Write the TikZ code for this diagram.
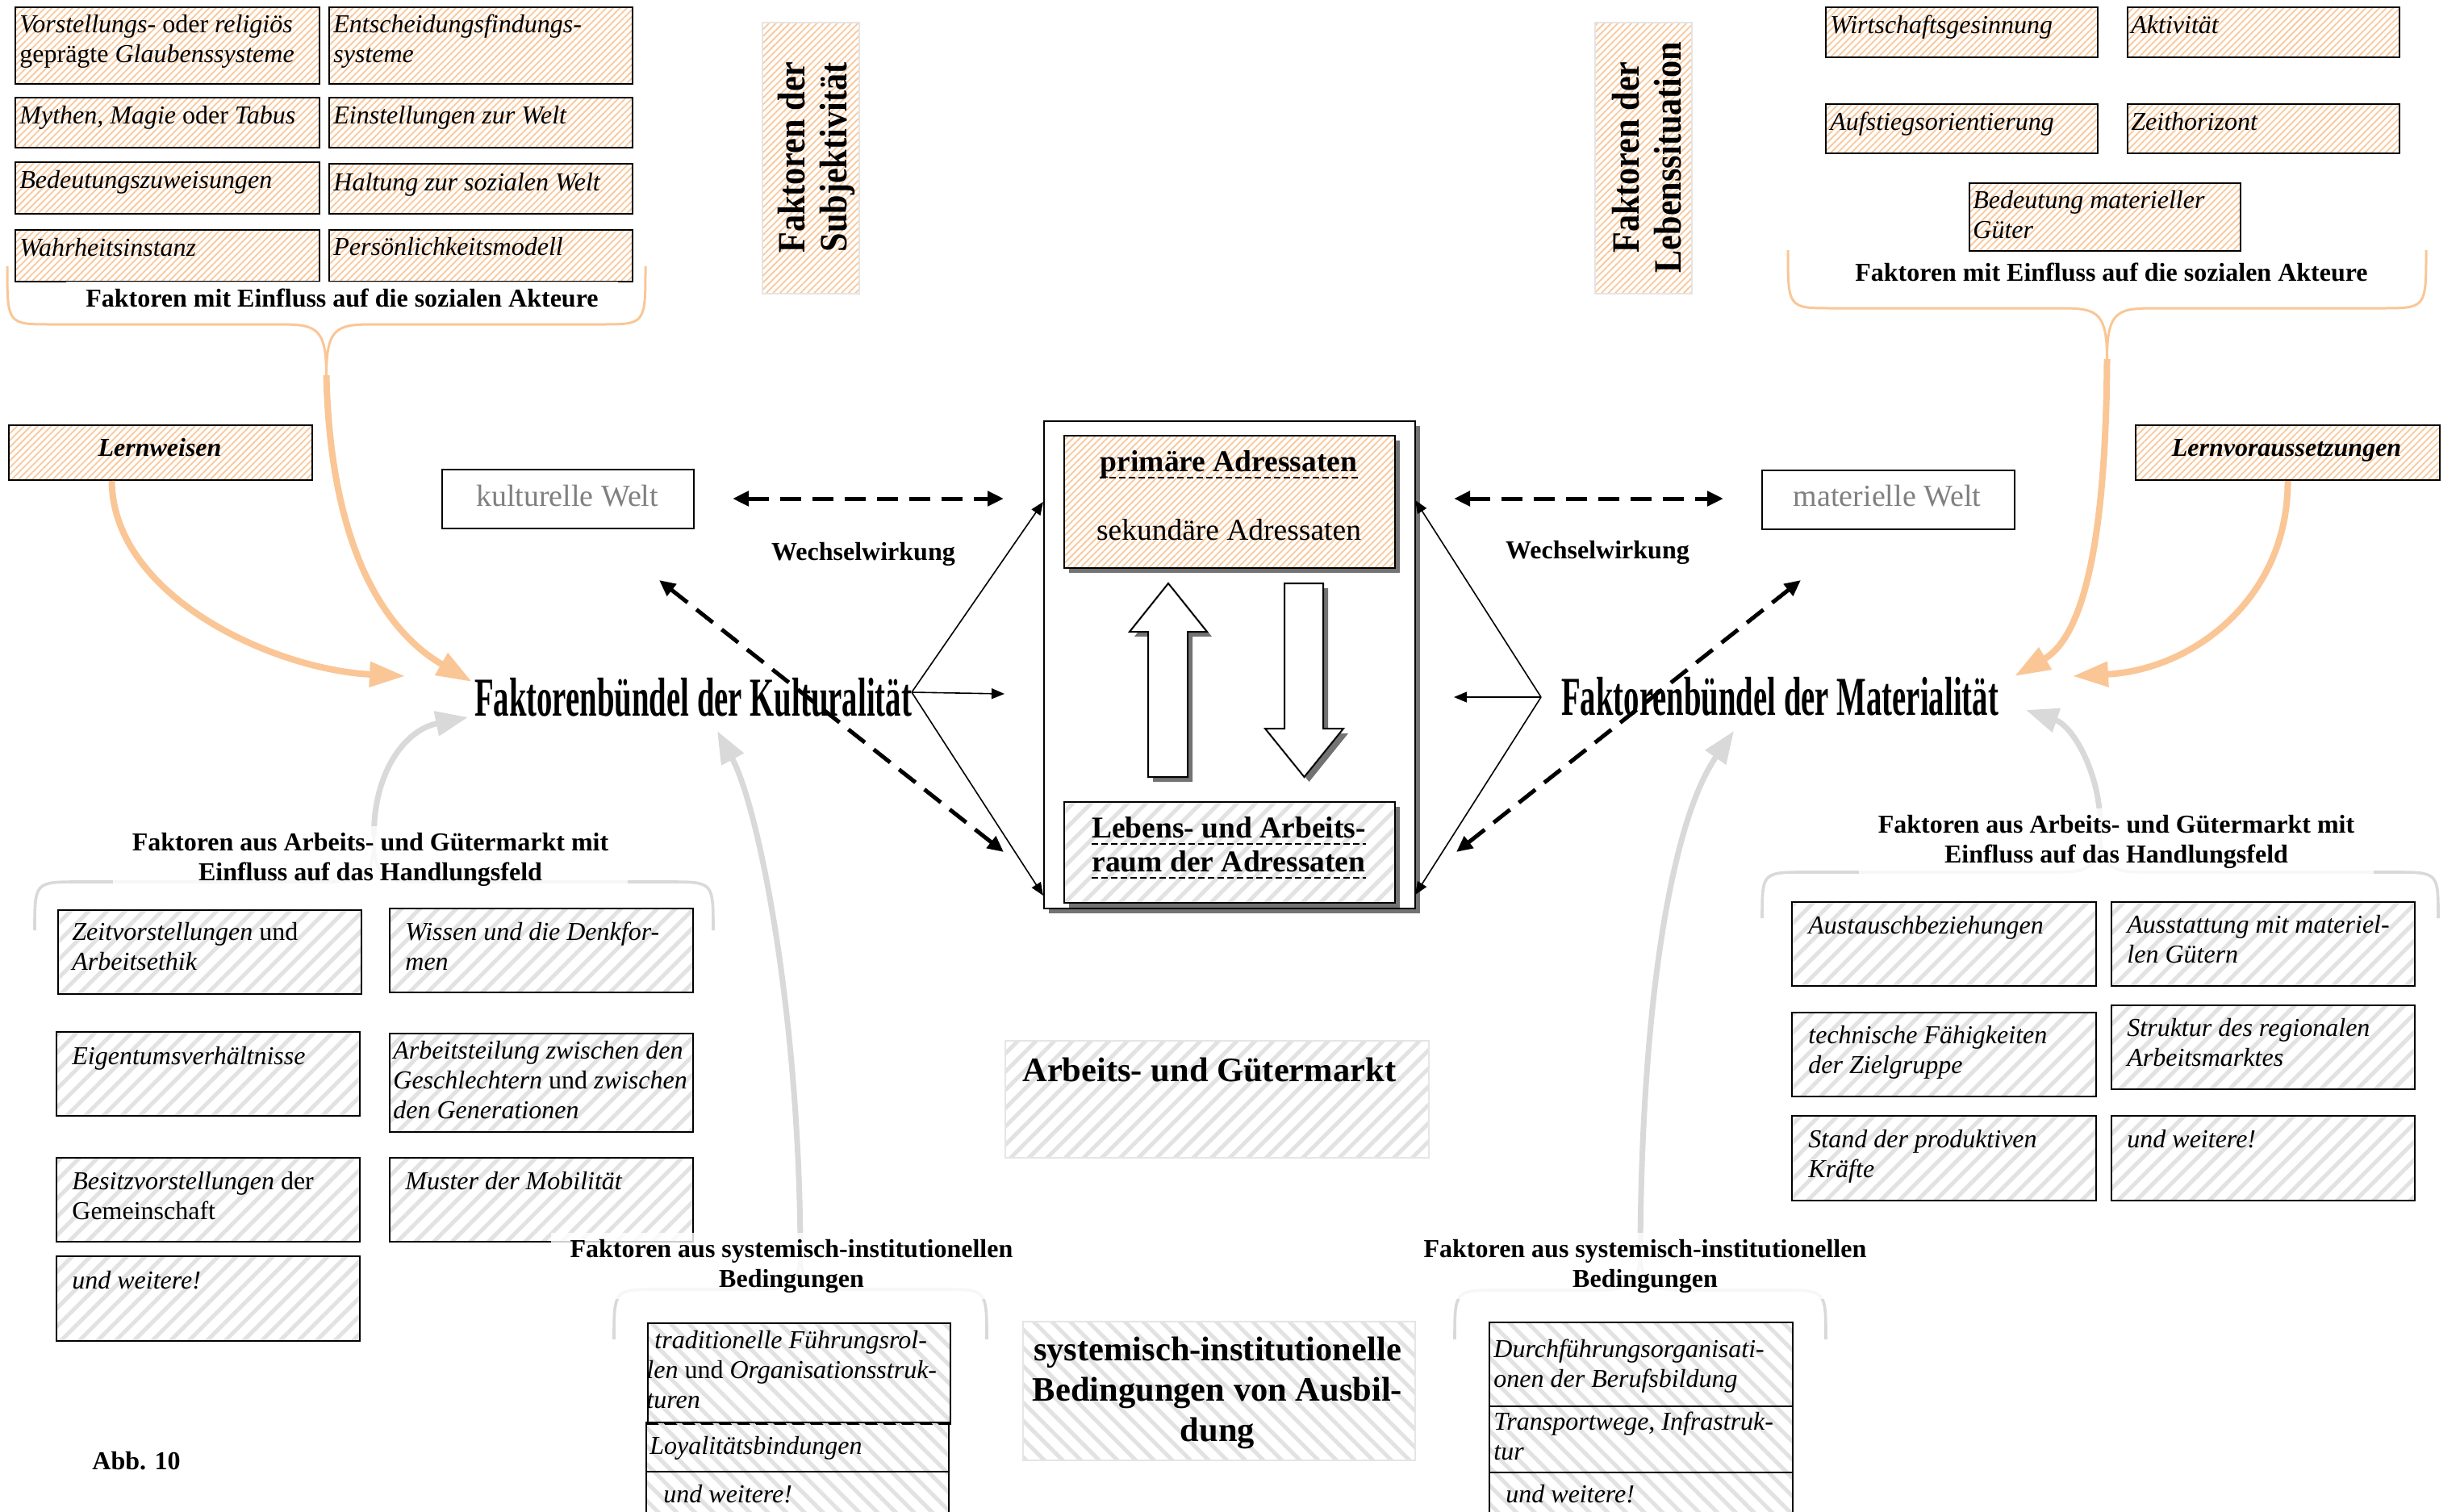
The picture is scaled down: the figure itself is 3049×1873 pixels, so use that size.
\documentclass[tikz,border=0pt]{standalone}
\usepackage{fontspec}
\setmainfont{Liberation Serif}
\newfontfamily\condserif{Liberation Serif}[FakeStretch=0.57]
\newfontfamily\wideserif{Liberation Serif}[FakeStretch=0.88]
\usetikzlibrary{arrows.meta,patterns.meta,shadows,calc}

\definecolor{peach}{RGB}{250,198,150}
\definecolor{peachline}{RGB}{250,200,155}
\definecolor{greyline}{RGB}{226,226,226}
\definecolor{greyarrow}{RGB}{217,217,217}
\definecolor{worldtext}{RGB}{128,128,128}

\newcommand\fsS{\fontsize{16pt}{18.5pt}\selectfont}
\newcommand\fsM{\fontsize{18.75pt}{21pt}\selectfont}
\newcommand\fsL{\fontsize{21.25pt}{25pt}\selectfont}
\newcommand\fsW{\fontsize{19pt}{22pt}\selectfont}
\newcommand\fsV{\fontsize{24pt}{26pt}\selectfont}
\newcommand\fsB{\fontsize{34pt}{38pt}\selectfont}

% rectangle node from corner (x1,y1) to corner (x2,y2)
\newcommand\boxnode[6]{%
  \node[#2, anchor=north west, inner sep=0pt,
        minimum width={(#5-#3)*0.5pt}, minimum height={(#6-#4)*0.5pt}]
        (#1) at (#3,#4) {};}

% horizontal curly brace: style, x left, x right, y of ends, y of bar, y of tip
\newcommand\curly[6]{%
  \pgfmathsetmacro\bracemid{(#2+#3)/2}
  \draw[#1] (#2,#4) .. controls (#2,#5) and (#2,#5) .. (#2+55,#5) -- (\bracemid-65,#5)
      .. controls (\bracemid-15,#5) and (\bracemid,#5) .. (\bracemid,#6)
      (#3,#4) .. controls (#3,#5) and (#3,#5) .. (#3-55,#5) -- (\bracemid+65,#5)
      .. controls (\bracemid+15,#5) and (\bracemid,#5) .. (\bracemid,#6);}

% multi-line text nodes are placed by the baseline of their last line
\tikzset{
  txt/.style={inner sep=0pt, anchor=base west, align=left, font=\fsS},
  itxt/.style={txt, font=\fsS\itshape},
  lbl/.style={inner xsep=12pt, inner ysep=4pt, anchor=base, align=center,
              font=\fsS\bfseries, fill=white, fill opacity=0.8, text opacity=1},
  peachbox/.style={draw=black, line width=1pt,
              pattern={Lines[angle=45,distance=3pt,line width=0.9pt]}, pattern color=peachline},
  peachpale/.style={draw=black!10, line width=0.8pt,
              pattern={Lines[angle=45,distance=3pt,line width=0.9pt]}, pattern color=peachline},
  greybox/.style={draw=black, line width=1pt,
              pattern={Lines[angle=45,distance=8pt,line width=2.5pt]}, pattern color=greyline},
  greyboxb/.style={draw=black, line width=1pt,
              pattern={Lines[angle=-45,distance=8pt,line width=2.5pt]}, pattern color=greyline},
  palebox/.style={draw=black!10, line width=1pt,
              pattern={Lines[angle=45,distance=8pt,line width=2.5pt]}, pattern color=greyline},
  paleboxb/.style={draw=black!10, line width=1pt,
              pattern={Lines[angle=-45,distance=8pt,line width=2.5pt]}, pattern color=greyline},
  plainbox/.style={draw=black, line width=1pt, fill=white},
  shadowed/.style={drop shadow={shadow xshift=3pt,shadow yshift=-3pt,fill=black!55,opacity=1}},
  bracepeach/.style={draw=peach, line width=1.5pt},
  bracegrey/.style={draw=greyarrow, line width=1.8pt},
  peacharrow/.style={draw=peach, line width=4pt, -{Triangle[length=22pt,width=15pt]}},
  greyarrowst/.style={draw=greyarrow, line width=3.5pt, -{Triangle[length=20pt,width=15pt]}},
  thinarrow/.style={line width=0.8pt, -{Triangle[length=8pt,width=6.5pt]}},
  dasharrow/.style={line width=2.5pt, dash pattern=on 13pt off 7pt,
              {Triangle[length=10pt,width=9pt]}-{Triangle[length=10pt,width=9pt]}},
  ul/.style={line width=1pt, dash pattern=on 4pt off 2pt},
  blockarrow/.style={draw=black, line width=1pt, fill=white, shadowed}
}

\begin{document}
\begin{tikzpicture}[x=0.5pt, y=-0.5pt, line join=miter]
\useasboundingbox (0,0) rectangle (3049,1873);

% ---------- factors of subjectivity (top left) ----------
\boxnode{tl1}{peachbox}{18}{8}{395}{103}
\boxnode{tl2}{peachbox}{407}{8}{783}{103}
\boxnode{tl3}{peachbox}{18}{120}{395}{182}
\boxnode{tl4}{peachbox}{407}{120}{783}{182}
\boxnode{tl5}{peachbox}{18}{200}{395}{264}
\boxnode{tl6}{peachbox}{407}{202}{783}{264}
\boxnode{tl7}{peachbox}{18}{284}{395}{348}
\boxnode{tl8}{peachbox}{407}{284}{783}{348}
\node[txt] (tt1) at (24,78) {\textit{Vorstellungs-} oder \textit{religiös}\\geprägte \textit{Glaubenssysteme}};
\node[itxt] (tt2) at (413,78) {Entscheidungsfindungs-\\systeme};
\node[txt] (tt3) at (24,153) {\textit{Mythen, Magie} oder \textit{Tabus}};
\node[itxt] (tt4) at (413,153) {Einstellungen zur Welt};
\node[itxt] (tt5) at (24,233) {Bedeutungszuweisungen};
\node[itxt] (tt6) at (413,236) {Haltung zur sozialen Welt};
\node[itxt] (tt7) at (24,317) {Wahrheitsinstanz};
\node[itxt] (tt8) at (413,316) {Persönlichkeitsmodell};

% ---------- factors of the life situation (top right) ----------
\boxnode{tr1}{peachbox}{2262}{8}{2599}{70}
\boxnode{tr2}{peachbox}{2636}{8}{2973}{70}
\boxnode{tr3}{peachbox}{2262}{128}{2599}{189}
\boxnode{tr4}{peachbox}{2636}{128}{2973}{189}
\boxnode{tr5}{peachbox}{2440}{226}{2776}{310}
\node[itxt] (rt1) at (2268,42) {Wirtschaftsgesinnung};
\node[itxt] (rt2) at (2641,42) {Aktivität};
\node[itxt] (rt3) at (2268,162) {Aufstiegsorientierung};
\node[itxt] (rt4) at (2641,162) {Zeithorizont};
\node[itxt] (rt5) at (2445,295) {Bedeutung materieller\\Güter};

% ---------- vertical headings ----------
\boxnode{subj}{peachpale}{944}{27}{1064}{363}
\boxnode{lebs}{peachpale}{1976}{27}{2096}{363}
\node[rotate=90, align=center, inner sep=0pt, font=\wideserif\bfseries\fsV] (subjt) at (1012,195) {Faktoren der\\Subjektivität};
\node[rotate=90, align=center, inner sep=0pt, font=\wideserif\bfseries\fsV] (lebst) at (2041,195) {Faktoren der\\Lebenssituation};

% ---------- learning boxes and worlds ----------
\boxnode{lw}{peachbox}{10}{526}{386}{594}
\node[inner sep=0pt, anchor=base, font=\fsS\bfseries\itshape] (lwt) at (198,565) {Lernweisen};
\boxnode{lv}{peachbox}{2646}{526}{3023}{594}
\node[inner sep=0pt, anchor=base, font=\fsS\bfseries\itshape] (lvt) at (2834,565) {Lernvoraussetzungen};
\boxnode{kw}{plainbox}{547}{581}{859}{654}
\node[inner sep=0pt, anchor=base, font=\fsW, text=worldtext] (kwt) at (703,627) {kulturelle Welt};
\boxnode{mw}{plainbox}{2183}{582}{2496}{655}
\node[inner sep=0pt, anchor=base, font=\fsW, text=worldtext] (mwt) at (2339,627) {materielle Welt};

% ---------- lower left: labour and goods market ----------
\boxnode{ll1}{greybox}{69}{1125}{445}{1229}
\boxnode{ll2}{greybox}{482}{1125}{858}{1229}
\boxnode{ll3}{greybox}{69}{1278}{445}{1382}
\boxnode{ll4}{greybox}{482}{1280}{858}{1402}
\boxnode{ll5}{greybox}{69}{1434}{445}{1538}
\boxnode{ll6}{greybox}{482}{1434}{858}{1538}
\boxnode{ll7}{greybox}{69}{1556}{445}{1661}
\node[txt] (lt1) at (89,1202) {\textit{Zeitvorstellungen} und\\\textit{Arbeitsethik}};
\node[itxt] (lt2) at (502,1202) {Wissen und die Denkfor-\\men};
\node[itxt] (lt3) at (89,1319) {Eigentumsverhältnisse};
\node[txt] (lt4) at (487,1386) {\textit{Arbeitsteilung zwischen den}\\\textit{Geschlechtern} und \textit{zwischen}\\\textit{den Generationen}};
\node[txt] (lt5) at (89,1511) {\textit{Besitzvorstellungen} der\\Gemeinschaft};
\node[itxt] (lt6) at (502,1474) {Muster der Mobilität};
\node[itxt] (lt7) at (89,1597) {und weitere!};

% ---------- lower right: labour and goods market ----------
\boxnode{lr1}{greybox}{2220}{1117}{2597}{1221}
\boxnode{lr2}{greybox}{2616}{1117}{2992}{1221}
\boxnode{lr3}{greybox}{2220}{1254}{2597}{1358}
\boxnode{lr4}{greybox}{2616}{1245}{2992}{1349}
\boxnode{lr5}{greybox}{2220}{1382}{2597}{1487}
\boxnode{lr6}{greybox}{2616}{1382}{2992}{1487}
\node[itxt] (rl1) at (2241,1157) {Austauschbeziehungen};
\node[itxt] (rl2) at (2636,1193) {Ausstattung mit materiel-\\len Gütern};
\node[itxt] (rl3) at (2241,1330) {technische Fähigkeiten\\der Zielgruppe};
\node[itxt] (rl4) at (2636,1321) {Struktur des regionalen\\Arbeitsmarktes};
\node[itxt] (rl5) at (2241,1459) {Stand der produktiven\\Kräfte};
\node[itxt] (rl6) at (2636,1422) {und weitere!};

% ---------- bottom: systemic-institutional conditions ----------
\boxnode{bl1}{greyboxb}{800}{1637}{1175}{1762}
\boxnode{bl2}{greyboxb}{800}{1762}{1175}{1823}
\boxnode{bl3}{greyboxb}{800}{1823}{1175}{1890}
\node[txt] (bt1) at (801,1745) {\hspace*{5pt}\textit{traditionelle Führungsrol-}\\\textit{len} und \textit{Organisationsstruk-}\\\textit{turen}};
\node[itxt] (bt2) at (805,1802) {Loyalitätsbindungen};
\node[itxt] (bt3) at (822,1862) {und weitere!};
\boxnode{br1}{greyboxb}{1845}{1638}{2221}{1742}
\boxnode{br2}{greyboxb}{1845}{1742}{2221}{1824}
\boxnode{br3}{greyboxb}{1845}{1824}{2221}{1890}
\node[itxt] (bs1) at (1851,1719) {Durchführungsorganisati-\\onen der Berufsbildung};
\node[itxt] (bs2) at (1851,1809) {Transportwege, Infrastruk-\\tur};
\node[itxt] (bs3) at (1866,1862) {und weitere!};

\boxnode{agm}{palebox}{1245}{1289}{1770}{1434}
\node[inner sep=0pt, anchor=base west, font=\fsL\bfseries] (agmt) at (1267,1340) {Arbeits- und Gütermarkt};
\boxnode{sib}{paleboxb}{1267}{1637}{1753}{1809}
\node[inner sep=0pt, anchor=base, align=center, font=\fsL\bfseries] (sibt) at (1509,1786) {systemisch-institutionelle\\Bedingungen von Ausbil-\\dung};

\node[inner sep=0pt, anchor=base west, font=\fsS\bfseries] (abb) at (114,1821) {Abb. 10};

% ---------- centre: addressees ----------
\boxnode{cbox}{plainbox, shadowed}{1293}{521}{1753}{1125}
\boxnode{prim}{peachbox, shadowed, preaction={fill=white}}{1318}{539}{1728}{703}
\boxnode{lebr}{greybox, shadowed, preaction={fill=white}}{1318}{993}{1728}{1118}
\node[inner sep=0pt, anchor=base, font=\fsM\bfseries] (primt) at (1523,584) {primäre Adressaten};
\draw[ul] ($(primt.base west)+(0,8)$) -- ($(primt.base east)+(0,8)$);
\node[inner sep=0pt, anchor=base, font=\fsM] (sekt) at (1523,669) {sekundäre Adressaten};
\node[inner sep=0pt, anchor=base, font=\fsM\bfseries] (lebt1) at (1523,1038) {Lebens- und Arbeits-};
\draw[ul] ($(lebt1.base west)+(0,8)$) -- ($(lebt1.base east)+(0,8)$);
\node[inner sep=0pt, anchor=base, font=\fsM\bfseries] (lebt2) at (1523,1080) {raum der Adressaten};
\draw[ul] ($(lebt2.base west)+(0,8)$) -- ($(lebt2.base east)+(0,8)$);
% exchange between the two levels
\draw[blockarrow] (1423,963) -- (1423,783) -- (1400,783) -- (1448,723) -- (1496,783)
   -- (1472,783) -- (1472,963) -- cycle;
\draw[blockarrow] (1592,723) -- (1592,903) -- (1568,903) -- (1616.5,963) -- (1665,903)
   -- (1640,903) -- (1640,723) -- cycle;

% ---------- braces ----------
\curly{bracepeach}{9}{800}{330}{402}{465}
\curly{bracepeach}{2216}{3007}{310}{382}{445}
\curly{bracegrey}{43}{884}{1153}{1093}{1035}
\curly{bracegrey}{2184}{3022}{1138}{1081}{1022}
\curly{bracegrey}{761}{1223}{1660}{1598}{1545}
\curly{bracegrey}{1803}{2263}{1660}{1599}{1545}

% ---------- named ends ----------
\coordinate (tipTL) at (404.5,465);
\coordinate (tipTR) at (2611.5,445);
\coordinate (tipML) at (463.5,1035);
\coordinate (tipMR) at (2603,1022);
\coordinate (tipBL) at (992,1545);
\coordinate (tipBR) at (2033,1545);
\coordinate (kin1) at (502,838);
\coordinate (kin2) at (585,845);
\coordinate (kin3) at (580,889);
\coordinate (kin4) at (889,906);
\coordinate (min1) at (2569,838);
\coordinate (min2) at (2497,838);
\coordinate (min3) at (2511,880);
\coordinate (min4) at (2149,906);
\coordinate (kR) at (1130,858);
\coordinate (mL) at (1910,864);
\coordinate (cL1) at (1293,622);
\coordinate (cL2) at (1293,1110);
\coordinate (cLm) at (1245,860);
\coordinate (cR1) at (1754,620);
\coordinate (cR2) at (1754,1109);
\coordinate (cRm) at (1802,864);
\coordinate (dl1) at (908,618);
\coordinate (dl2) at (1244,618);
\coordinate (dl3) at (817,719);
\coordinate (dl4) at (1244,1056);
\coordinate (dr1) at (1802,618);
\coordinate (dr2) at (2136,618);
\coordinate (dr3) at (1805,1056);
\coordinate (dr4) at (2232,719);

% ---------- influence arrows ----------
\draw[peacharrow] ($(lw.south west)!0.34!(lw.south east)$) .. controls (140,740) and (340,830) .. (kin1);
\draw[peacharrow] (tipTL) .. controls (410,700) and (490,790) .. (kin2);
\draw[peacharrow] (lv.south) .. controls (2836,740) and (2720,830) .. (min1);
\draw[peacharrow] (tipTR) .. controls (2610,680) and (2580,790) .. (min2);
\draw[greyarrowst] (tipML) .. controls (463,960) and (500,905) .. (kin3);
\draw[greyarrowst] (tipBL) .. controls (990,1250) and (940,1000) .. (kin4);
\draw[greyarrowst] (tipMR) .. controls (2603,960) and (2570,900) .. (min3);
\draw[greyarrowst] (tipBR) .. controls (2035,1250) and (2070,1020) .. (min4);

% ---------- interaction ----------
\draw[dasharrow] (dl1) -- (dl2);
\draw[dasharrow] (dl3) -- (dl4);
\draw[dasharrow] (dr1) -- (dr2);
\draw[dasharrow] (dr3) -- (dr4);
\node[inner sep=0pt, anchor=base, font=\fsS\bfseries] (wwl) at (1070,694) {Wechselwirkung};
\node[inner sep=0pt, anchor=base, font=\fsS\bfseries] (wwr) at (1980,692) {Wechselwirkung};

\draw[thinarrow] (kR) -- (cL1);
\draw[thinarrow] (kR) -- (cL2);
\draw[thinarrow] (kR) -- (cLm);
\draw[thinarrow] (mL) -- (cR1);
\draw[thinarrow] (mL) -- (cR2);
\draw[thinarrow] (mL) -- (cRm);

% ---------- factor bundles ----------
\node[inner sep=0pt, anchor=base, font=\condserif\bfseries\fsB] (kult) at (859,887) {Faktorenbündel der Kulturalität};
\node[inner sep=0pt, anchor=base, font=\condserif\bfseries\fsB] (matl) at (2206,886) {Faktorenbündel der Materialität};

% ---------- brace labels ----------
\node[lbl] (lab1) at (424,380) {Faktoren mit Einfluss auf die sozialen Akteure};
\node[lbl] (lab2) at (2617,348) {Faktoren mit Einfluss auf die sozialen Akteure};
\node[lbl] (lab3) at (459,1091) {Faktoren aus Arbeits- und Gütermarkt mit\\Einfluss auf das Handlungsfeld};
\node[lbl] (lab4) at (2623,1069) {Faktoren aus Arbeits- und Gütermarkt mit\\Einfluss auf das Handlungsfeld};
\node[lbl] (lab5) at (981,1595) {Faktoren aus systemisch-institutionellen\\Bedingungen};
\node[lbl] (lab6) at (2039,1595) {Faktoren aus systemisch-institutionellen\\Bedingungen};

\end{tikzpicture}
\end{document}
